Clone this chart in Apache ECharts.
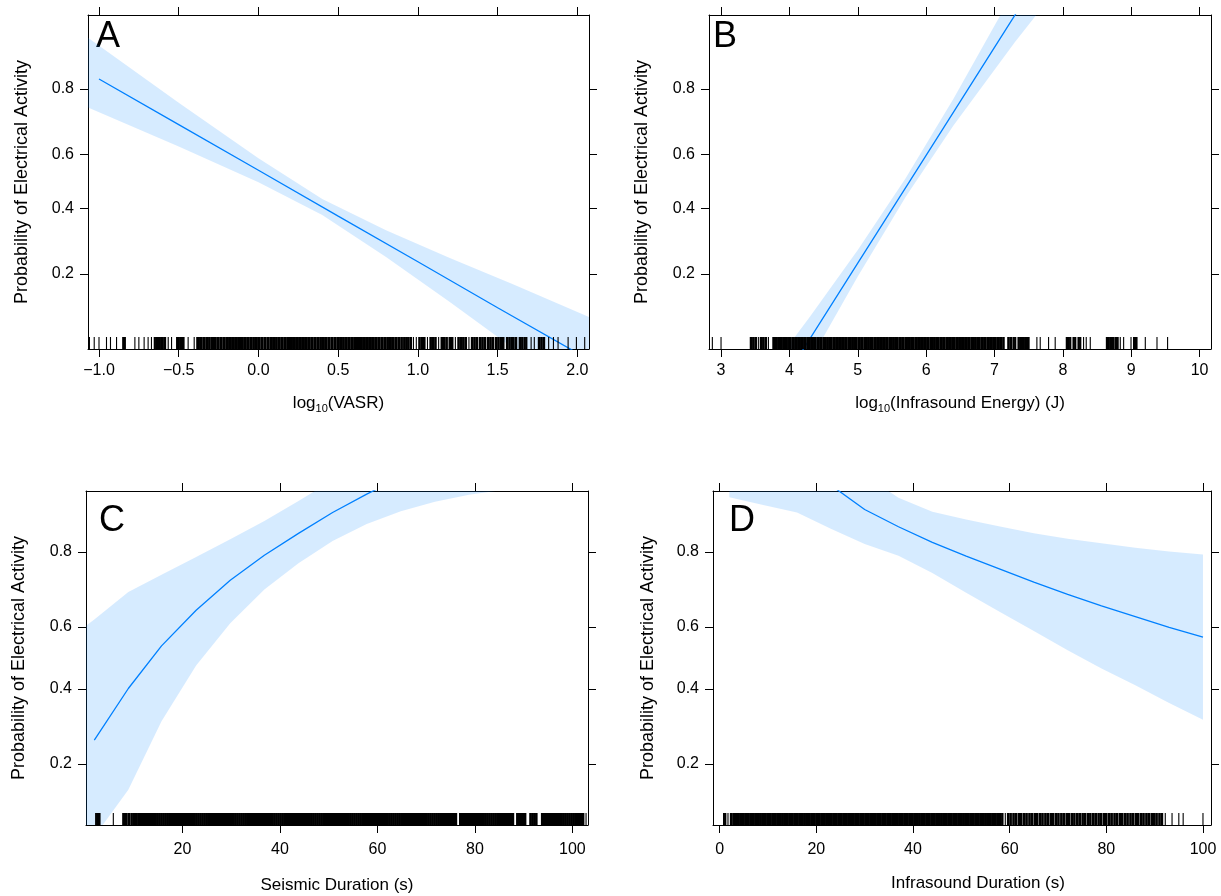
<!DOCTYPE html>
<html><head><meta charset="utf-8">
<script src="https://cdn.jsdelivr.net/npm/echarts@6/dist/echarts.min.js"></script>
<style>html,body{margin:0;padding:0;background:#fff}#c{width:1221px;height:896px}</style>
</head><body><div id="c"></div>
<script>
// ---------- data ----------
const probTicks = [0.2, 0.4, 0.6, 0.8];
const xTicksA = [-1.0, -0.5, 0.0, 0.5, 1.0, 1.5, 2.0];
const xTicksB = [3, 4, 5, 6, 7, 8, 9, 10];
const xTicksC = [0, 20, 40, 60, 80, 100];
const xTicksD = [0, 20, 40, 60, 80, 100];

// Panel A: log10(VASR)
const lineAX = [-1.0, -0.5, 0.0, 0.5, 1.0, 1.5, 2.0];
const lineAP = [0.823, 0.701, 0.542, 0.373, 0.231, 0.131, 0.071];
const bandAX = [-1.069, -0.5, 0.0, 0.4, 0.8, 1.2, 1.6, 2.073];
const bandAUpper = [0.896, 0.765, 0.586, 0.435, 0.325, 0.241, 0.176, 0.116];
const bandALower = [0.752, 0.628, 0.497, 0.377, 0.244, 0.141, 0.0755, 0.035];
const rugA = [-1.06,-1.03,-1.00,-0.953,-0.928,-0.89,-0.848,-0.838,-0.775,-0.75,-0.717,-0.692,-0.671,-0.65,-0.64,-0.63,-0.62,-0.61,-0.60,-0.587,-0.566,-0.545,-0.51,-0.50,-0.49,-0.48,-0.47,-0.441,-0.403,-0.384,-0.375,
-0.366,-0.357,-0.346,-0.338,-0.327,-0.318,-0.309,-0.297,-0.289,-0.279,-0.270,-0.259,-0.251,-0.240,-0.232,-0.221,-0.213,-0.202,-0.193,-0.184,-0.174,-0.165,-0.154,-0.146,-0.135,-0.127,-0.116,-0.107,-0.098,-0.088,-0.079,-0.068,-0.060,-0.049,-0.041,-0.030,-0.021,-0.012,-0.002,0.007,0.018,0.026,0.037,0.045,0.056,0.064,0.075,0.084,0.093,0.103,0.112,0.123,0.131,0.142,0.150,0.161,0.169,0.180,0.189,0.198,0.208,0.217,0.228,0.236,0.247,0.255,0.266,0.274,0.285,0.294,0.303,0.313,0.322,0.333,0.341,0.352,0.360,0.371,0.379,0.390,0.399,0.408,0.418,0.427,0.438,0.446,0.457,0.465,0.476,0.484,0.495,0.504,0.513,0.523,0.532,0.543,0.551,0.562,0.570,0.581,0.589,0.600,0.609,0.618,0.628,0.637,0.648,0.656,0.667,0.675,0.686,0.694,0.705,0.714,0.723,0.733,0.742,0.753,0.761,0.772,0.780,0.791,0.799,0.810,0.819,0.828,0.838,0.847,0.858,0.866,0.877,0.885,
0.898,0.915,0.928,0.94,0.955,0.972,0.99,1.01,1.025,1.04,1.06,1.08,1.095,1.11,1.13,1.15,1.165,1.18,1.2,1.215,1.235,1.255,1.27,1.285,1.3,1.32,1.34,1.355,1.37,1.39,1.405,1.42,1.44,1.455,1.47,1.49,1.505,1.52,1.535,
1.56,1.575,1.59,1.6,1.615,1.64,1.655,1.67,1.68,1.71,1.73,1.76,1.775,1.79,1.82,1.85,1.879,1.942,1.994,2.046];

// Panel B: log10(Infrasound Energy)
const lineBX = [3.4, 5.0, 6.0, 7.0, 8.0, 9.5];
const lineBP = [0.0216, 0.2271, 0.5968, 0.8818, 0.9741, 0.9976];
const bandBX = [3.4, 4.3, 5.0, 5.7, 6.4, 7.3, 8.2, 9.5];
const bandBUpper = [0.0369, 0.1164, 0.2640, 0.5117, 0.7754, 0.9470, 0.9905, 0.9992];
const bandBLower = [0.0126, 0.0637, 0.1939, 0.4420, 0.6983, 0.8900, 0.9630, 0.9935];
const rugB = [2.873,3.0,3.439,3.473,3.507,3.546,3.585,3.619,3.654,3.693,3.766,3.79,3.815,3.839,3.863,3.888,3.912,3.937,3.961,
3.98,4.0,4.02,4.045,4.065,4.085,4.11,4.13,4.15,4.17,4.195,4.215,4.235,4.26,4.28,4.3,4.32,4.345,4.365,4.385,4.41,4.43,4.45,4.47,4.495,4.515,4.535,4.56,4.58,4.6,4.62,4.645,4.665,4.685,4.71,4.73,4.75,4.77,4.795,4.815,4.835,4.86,4.88,4.9,4.92,4.945,4.965,4.985,5.01,5.03,5.05,5.07,5.095,5.115,5.135,5.16,5.18,5.2,5.22,5.245,5.265,5.285,5.31,5.33,5.35,5.37,5.395,5.415,5.435,5.46,5.48,5.5,5.52,5.545,5.565,5.585,5.61,5.63,5.65,5.67,5.695,5.715,5.735,5.76,5.78,5.8,5.82,5.845,5.865,5.885,5.91,5.93,5.95,5.97,5.995,6.015,6.035,6.06,6.08,6.1,6.12,6.145,6.165,6.185,6.21,6.23,6.25,6.27,6.295,6.315,6.335,6.36,6.38,6.4,6.42,6.445,6.465,6.485,6.51,6.53,6.55,6.57,6.595,6.615,6.635,6.66,6.68,6.7,6.72,6.745,6.765,6.785,6.81,6.83,6.85,6.87,6.895,6.915,6.935,6.96,6.98,7.0,7.02,7.045,7.065,7.085,7.105,
7.132,7.205,7.24,7.279,7.303,7.352,7.376,7.401,7.425,7.449,7.474,7.498,7.62,7.669,7.791,7.888,8.059,8.084,8.108,8.157,8.181,8.23,8.254,8.303,8.342,8.401,8.645,8.669,8.694,8.718,8.742,8.777,8.801,8.84,8.889,8.997,9.045,9.074,9.206,9.377,9.532];

// Panel C: Seismic Duration
const lineCX = [1.91, 8.89, 15.7, 22.8, 29.8, 36.8, 43.8, 50.8, 57.8, 64.8, 71.8, 78.8, 85.8, 92.8, 99.8];
const lineCP = [0.254, 0.401, 0.539, 0.651, 0.734, 0.793, 0.836, 0.870, 0.895, 0.914, 0.928, 0.940, 0.949, 0.957, 0.963];
const bandCX = [0.2, 1.91, 8.89, 15.7, 22.8, 29.8, 36.8, 43.8, 50.8, 57.8, 64.8, 71.8, 78.8, 85.8, 92.8, 99.8];
const bandCUpper = [0.603, 0.623, 0.703, 0.748, 0.789, 0.825, 0.857, 0.886, 0.911, 0.930, 0.946, 0.958, 0.967, 0.974, 0.980, 0.984];
const bandCLower = [0.029, 0.088, 0.151, 0.304, 0.475, 0.611, 0.710, 0.775, 0.822, 0.852, 0.872, 0.885, 0.894, 0.900, 0.905, 0.909];
const rugC = [2.26,2.52,2.93,5.81,7.86,8.21,8.55,9.09,9.58,9.91,10.26,10.61,10.94,
11.3,11.7,12.1,12.5,12.9,13.3,13.7,14.1,14.5,14.9,15.3,15.7,16.1,16.5,16.9,17.3,17.7,18.1,18.5,18.9,19.3,19.7,20.1,20.5,20.9,21.3,21.7,22.1,22.5,22.9,23.3,23.7,24.1,24.5,24.9,25.3,25.7,26.1,26.5,26.9,27.3,27.7,28.1,28.5,28.9,29.3,29.7,30.1,30.5,30.9,31.3,31.7,32.1,32.5,32.9,33.3,33.7,34.1,34.5,34.9,35.3,35.7,36.1,36.5,36.9,37.3,37.7,38.1,38.5,38.9,39.3,39.7,40.1,40.5,40.9,41.3,41.7,42.1,42.5,42.9,43.3,43.7,44.1,44.5,44.9,45.3,45.7,46.1,46.5,46.9,47.3,47.7,48.1,48.5,48.9,49.3,49.7,50.1,50.5,50.9,51.3,51.7,52.1,52.5,52.9,53.3,53.7,54.1,54.5,54.9,55.3,55.7,56.1,56.5,56.9,57.3,57.7,58.1,58.5,58.9,59.3,59.7,60.1,60.5,60.9,61.3,61.7,62.1,62.5,62.9,63.3,63.7,64.1,64.5,64.9,65.3,65.7,66.1,66.5,66.9,67.3,67.7,68.1,68.5,68.9,69.3,69.7,70.1,70.5,70.9,71.3,71.7,72.1,72.5,72.9,73.3,73.7,74.1,74.5,74.9,75.3,75.7,76.1,
77.0,77.4,77.8,78.2,78.6,79.0,79.4,79.8,80.2,80.6,81.0,81.4,81.8,82.2,82.6,83.0,83.4,83.8,84.2,84.6,85.0,85.4,85.8,86.2,86.6,87.0,87.4,87.8,88.7,89.1,89.5,89.9,90.3,91.4,91.8,92.2,92.6,93.8,94.2,94.6,95.0,95.4,95.8,96.2,96.6,97.0,97.4,97.8,98.2,98.6,99.0,99.4,99.8,100.2,100.6,101.0,101.4,101.8,102.2,102.8];

// Panel D: Infrasound Duration
const lineDX = [2, 9, 16, 23, 30, 37, 44, 51, 58, 65, 72, 79, 86, 93, 100];
const lineDP = [0.9890, 0.9707, 0.9427, 0.9055, 0.8744, 0.8475, 0.8191, 0.7909, 0.7613, 0.7291, 0.6964, 0.6637, 0.6318, 0.5987, 0.5673];
const bandDX = [2, 9, 16, 23, 30, 37, 44, 51, 58, 65, 72, 79, 86, 93, 100];
const bandDUpper = [0.9990, 0.9933, 0.9759, 0.9443, 0.9161, 0.8904, 0.8710, 0.8594, 0.8481, 0.8362, 0.8263, 0.8176, 0.8085, 0.8006, 0.7943];
const bandDLower = [0.8909, 0.8808, 0.8699, 0.8442, 0.8161, 0.7917, 0.7521, 0.7006, 0.6457, 0.5866, 0.5250, 0.4651, 0.4110, 0.3566, 0.3081];
const rugD = [0.89,1.18,1.72,2.28,
2.5,2.85,3.2,3.55,3.9,4.25,4.6,4.95,5.3,5.65,6.0,6.35,6.7,7.05,7.4,7.75,8.1,8.45,8.8,9.15,9.5,9.85,10.2,10.55,10.9,11.25,11.6,11.95,12.3,12.65,13.0,13.35,13.7,14.05,14.4,14.75,15.1,15.45,15.8,16.15,16.5,16.85,17.2,17.55,17.9,18.25,18.6,18.95,19.3,19.65,20.0,20.35,20.7,21.05,21.4,21.75,22.1,22.45,22.8,23.15,23.5,23.85,24.2,24.55,24.9,25.25,25.6,25.95,26.3,26.65,27.0,27.35,27.7,28.05,28.4,28.75,29.1,29.45,29.8,30.15,30.5,30.85,31.2,31.55,31.9,32.25,32.6,32.95,33.3,33.65,34.0,34.35,34.7,35.05,35.4,35.75,36.1,36.45,36.8,37.15,37.5,37.85,38.2,38.55,38.9,39.25,39.6,39.95,40.3,40.65,41.0,41.35,41.7,42.05,42.4,42.75,43.1,43.45,43.8,44.15,44.5,44.85,45.2,45.55,45.9,46.25,46.6,46.95,47.3,47.65,48.0,48.35,48.7,49.05,49.4,49.75,50.1,50.45,50.8,51.15,51.5,51.85,52.2,52.55,52.9,53.25,53.6,53.95,54.3,54.65,55.0,55.35,55.7,56.05,56.4,56.75,57.1,57.45,57.8,58.15,58.5,
59.1,59.7,60.2,60.8,61.3,61.9,62.4,63.0,63.5,64.1,64.6,65.2,65.7,66.3,66.8,67.4,67.9,68.5,69.0,69.6,70.1,70.7,71.2,71.8,72.3,72.9,73.4,74.0,74.5,75.1,75.6,76.2,76.7,77.3,77.8,78.4,78.9,79.5,80.0,80.6,81.1,81.7,82.2,82.8,83.3,83.9,84.4,85.0,85.5,86.1,86.6,87.2,87.7,88.3,88.8,89.4,89.9,90.4,
91.0,91.5,92.2,93.6,95.0,95.9,100.0];

const yTitle = 'Probability of Electrical Activity';
const xTitles = ['log{sub|10}(VASR)', 'log{sub|10}(Infrasound Energy) (J)', 'Seismic Duration (s)', 'Infrasound Duration (s)'];
const letters = ['A', 'B', 'C', 'D'];

// ---------- build ----------
const logit = p => Math.log(p / (1 - p));
const FONT = 'Liberation Sans, Arial, Helvetica, sans-serif';
const panels = [
  {grid:{left:88, top:15, width:501, height:334}, xr:[-1.069, 2.073], pr:[0.0751, 0.9238], ticks:xTicksA, dig:1,
   lx:lineAX, lp:lineAP, bx:bandAX, bu:bandAUpper, bl:bandALower, rug:rugA, letterPos:[96, 19], lm:14, nameGap:44, namePad:[0,0,0,0], yGap:57},
  {grid:{left:709, top:15, width:502, height:334}, xr:[2.824, 10.167], pr:[0.0751, 0.9238], ticks:xTicksB, dig:0,
   lx:lineBX, lp:lineBP, bx:bandBX, bu:bandBUpper, bl:bandBLower, rug:rugB, letterPos:[713, 19], lm:14, nameGap:44, namePad:[0,0,0,0], yGap:58},
  {grid:{left:86, top:491, width:502, height:334}, xr:[0.205, 103.2], pr:[0.1009, 0.8987], ticks:xTicksC, dig:0,
   lx:lineCX, lp:lineCP, bx:bandCX, bu:bandCUpper, bl:bandCLower, rug:rugC, letterPos:[99, 503], lm:17, nameGap:52, namePad:[0,0,0,0], yGap:58},
  {grid:{left:713, top:491, width:498, height:334}, xr:[-1.38, 101.66], pr:[0.1009, 0.8987], ticks:xTicksD, dig:0,
   lx:lineDX, lp:lineDP, bx:bandDX, bu:bandDUpper, bl:bandDLower, rug:rugD, letterPos:[729, 503], lm:17, nameGap:50, namePad:[0,0,0,32], yGap:56}
];

const grid = [], xAxis = [], yAxis = [], series = [], graphic = [];
const tickStyle = {show:true, inside:false, length:8, lineStyle:{color:'#000', width:1}};
const lineSty = {show:true, onZero:false, lineStyle:{color:'#000', width:1}};
panels.forEach((P, i) => {
  grid.push(P.grid);
  const yVals = probTicks.map(logit);
  const fmtX = v => {
    const s = Math.abs(v).toFixed(P.dig);
    return (v < -1e-9 ? '\u2212' : '') + s;
  };
  xAxis.push({type:'value', gridIndex:i, position:'bottom', min:P.xr[0], max:P.xr[1],
    axisLine:lineSty, splitLine:{show:false},
    axisTick:Object.assign({customValues:P.ticks}, tickStyle),
    axisLabel:{customValues:P.ticks, formatter:fmtX, color:'#000', fontSize:16, fontFamily:FONT, margin:P.lm},
    name:xTitles[i], nameLocation:'middle', nameGap:P.nameGap,
    nameTextStyle:{color:'#000', fontSize:17, fontFamily:FONT, padding:P.namePad,
      rich:{sub:{fontSize:11, fontFamily:FONT, color:'#000', verticalAlign:'bottom', padding:[10,0,0,0]}}}});
  xAxis.push({type:'value', gridIndex:i, position:'top', min:P.xr[0], max:P.xr[1],
    axisLine:lineSty, splitLine:{show:false},
    axisTick:Object.assign({customValues:P.ticks}, tickStyle),
    axisLabel:{show:false, customValues:P.ticks}});
  const yr = [logit(P.pr[0]), logit(P.pr[1])];
  yAxis.push({type:'value', gridIndex:i, position:'left', min:yr[0], max:yr[1],
    axisLine:lineSty, splitLine:{show:false},
    axisTick:Object.assign({customValues:yVals}, tickStyle),
    axisLabel:{customValues:yVals, formatter:v => (1 / (1 + Math.exp(-v))).toFixed(1), color:'#000', fontSize:16, fontFamily:FONT, margin:14},
    name:yTitle, nameLocation:'middle', nameGap:P.yGap, nameRotate:90,
    nameTextStyle:{color:'#000', fontSize:18, fontFamily:FONT}});
  yAxis.push({type:'value', gridIndex:i, position:'right', min:yr[0], max:yr[1],
    axisLine:lineSty, splitLine:{show:false},
    axisTick:Object.assign({customValues:yVals}, tickStyle),
    axisLabel:{show:false, customValues:yVals}});
  yAxis.push({type:'value', gridIndex:i, min:0, max:1, show:false});

  const xb = 2 * i, yl = 3 * i;
  // confidence band as a polygon drawn through the axes' scales
  series.push({type:'custom', xAxisIndex:xb, yAxisIndex:yl, silent:true, z:1,
    data:[[P.bx[0], logit(P.bl[0])]],
    renderItem:(params, api) => {
      const pts = [];
      P.bx.forEach((x, k) => pts.push(api.coord([x, logit(P.bu[k])])));
      for (let k = P.bx.length - 1; k >= 0; k--) pts.push(api.coord([P.bx[k], logit(P.bl[k])]));
      const cs = params.coordSys;
      return {type:'polygon', shape:{points:pts}, style:{fill:'rgba(0,128,255,0.16)'},
        clipPath:{type:'rect', shape:{x:cs.x, y:cs.y, width:cs.width, height:cs.height}}};
    }});
  series.push({type:'line', xAxisIndex:xb, yAxisIndex:yl, symbol:'none', silent:true, clip:true, z:2,
    lineStyle:{color:'#0080ff', width:1.3}, data:P.lx.map((x, k) => [x, logit(P.lp[k])])});
  // rug: tick width grows where observations crowd together so dense runs read as solid
  const pxPerUnit = P.grid.width / (P.xr[1] - P.xr[0]);
  const rugData = P.rug.map((x, k) => {
    const gl = k > 0 ? x - P.rug[k - 1] : Infinity;
    const gr = k < P.rug.length - 1 ? P.rug[k + 1] - x : Infinity;
    const gpx = Math.min(gl, gr) * pxPerUnit;
    const w = gpx < 2.6 ? Math.min(gpx + 0.6, 2.6) : 1.1;
    return {value:[x, 0.018], symbolSize:[w, 12]};
  });
  series.push({type:'scatter', xAxisIndex:xb, yAxisIndex:yl + 2, symbol:'rect', silent:true, z:3,
    itemStyle:{color:'#000', opacity:1}, data:rugData});

  graphic.push({type:'text', left:P.letterPos[0], top:P.letterPos[1], silent:true,
    style:{text:letters[i], fill:'#000', font:'36px ' + FONT}});
});

const chart = echarts.init(document.getElementById('c'), null, {renderer:'canvas'});
chart.setOption({animation:false, backgroundColor:'#fff', textStyle:{fontFamily:FONT},
  grid, xAxis, yAxis, series, graphic});
</script>
</body></html>
